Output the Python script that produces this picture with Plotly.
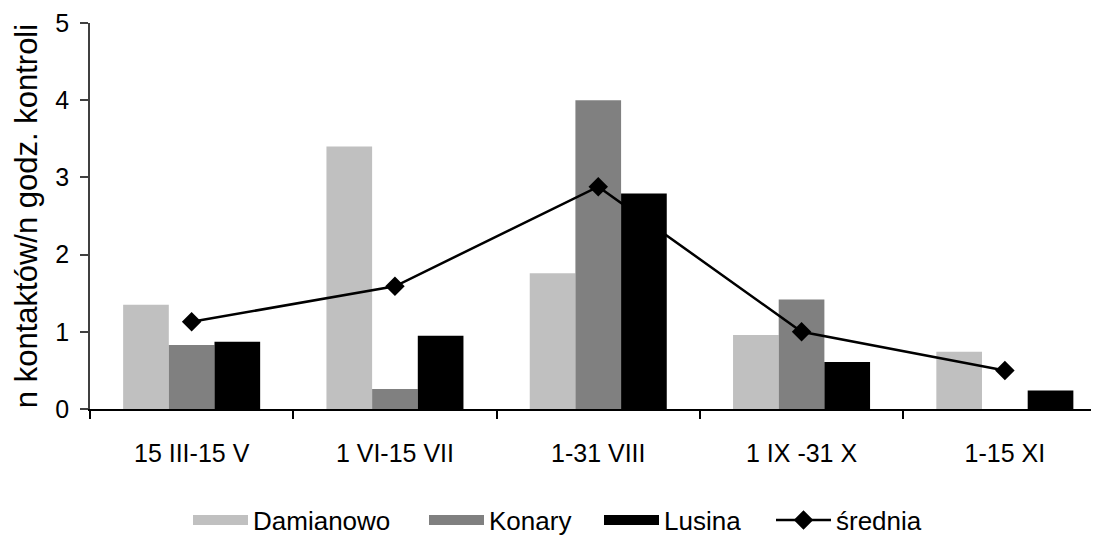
import plotly.graph_objects as go

categories = ["15 III-15 V", "1 VI-15 VII", "1-31 VIII", "1 IX -31 X", "1-15 XI"]
damianowo = [1.35, 3.40, 1.76, 0.96, 0.74]
konary = [0.83, 0.26, 4.00, 1.42, 0.0]
lusina = [0.87, 0.95, 2.79, 0.61, 0.24]
srednia = [1.13, 1.59, 2.88, 1.00, 0.50]
y_ticks = [0, 1, 2, 3, 4, 5]

FONT = "Arial, 'Liberation Sans', sans-serif"

series = [("Damianowo", damianowo, "#C0C0C0"),
          ("Konary", konary, "#808080"),
          ("Lusina", lusina, "#000000")]

# page body has an 8px margin; figure coordinates are offset by it
OFF = 8
L, R, T, B = 82, 0, 15, 143
W, H = 1099, 544
plot_w = W - L - R
plot_h = H - T - B


def px_x(p):
    return (p - OFF - L) / plot_w


def px_y(p):
    return (H - B - (p - OFF)) / plot_h


legend_px = [194, 430, 605, 777]
legend_names = ["legend", "legend2", "legend3", "legend4"]

fig = go.Figure()
for name, vals, col in series:
    fig.add_trace(go.Bar(x=categories, y=vals, name=name, marker=dict(color=col, line=dict(width=0)),
                         showlegend=False))
for i, (name, vals, col) in enumerate(series):
    fig.add_trace(go.Scatter(x=[None], y=[None], mode="lines", name=name,
                             line=dict(color=col, width=16), showlegend=True,
                             legend=legend_names[i]))
fig.add_trace(go.Scatter(x=categories, y=srednia, name="średnia", mode="lines+markers",
                         line=dict(color="black", width=2.5),
                         marker=dict(symbol="diamond", size=15, color="black"),
                         legend=legend_names[3]))

cat_w = 203.3
xr = [-0.5, -0.5 + plot_w / cat_w]

leg_common = dict(orientation="h", yanchor="middle", y=px_y(520), xanchor="left",
                  font=dict(family=FONT, size=26), itemwidth=55,
                  bgcolor="rgba(0,0,0,0)", borderwidth=0)
legends = {}
for i, ln in enumerate(legend_names):
    d = dict(leg_common)
    d["x"] = px_x(legend_px[i] - 6)
    legends[ln] = d

fig.update_layout(
    width=W, height=H,
    margin=dict(l=L, r=R, t=T, b=B),
    paper_bgcolor="white", plot_bgcolor="white",
    barmode="group", bargap=0.326, bargroupgap=0,
    font=dict(family=FONT, color="black"),
    showlegend=True,
    **legends,
    xaxis=dict(type="category", range=xr, showline=True, linecolor="black", linewidth=1.5,
               ticks="outside", ticklen=8, tickcolor="black", tickwidth=1.5, tickson="boundaries",
               showgrid=False, zeroline=False, tickfont=dict(size=25), ticklabelstandoff=21,
               automargin=False),
    yaxis=dict(range=[0, 5], tickvals=y_ticks, showline=True, linecolor="#404040", linewidth=1.5,
               ticks="outside", ticklen=8, tickcolor="#404040", tickwidth=1.5,
               showgrid=False, zeroline=False, tickfont=dict(size=25), ticklabelstandoff=6,
               automargin=False,
               title=dict(text="n kontaktów/n godz. kontroli", font=dict(size=31), standoff=8)),
    xaxis2=dict(overlaying="x", range=xr, tickvals=[-0.5, 0.5, 1.5, 2.5, 3.5, 4.5],
                ticks="inside", ticklen=8, tickcolor="black", tickwidth=1.5, automargin=False,
                showticklabels=False, showgrid=False, zeroline=False, showline=False, side="bottom"),
    yaxis2=dict(overlaying="y", range=[0, 5], tickvals=y_ticks, side="left", automargin=False,
                ticks="inside", ticklen=8, tickcolor="#404040", tickwidth=1.5,
                showticklabels=False, showgrid=False, zeroline=False, showline=False),
)
fig.write_html("out.html")
